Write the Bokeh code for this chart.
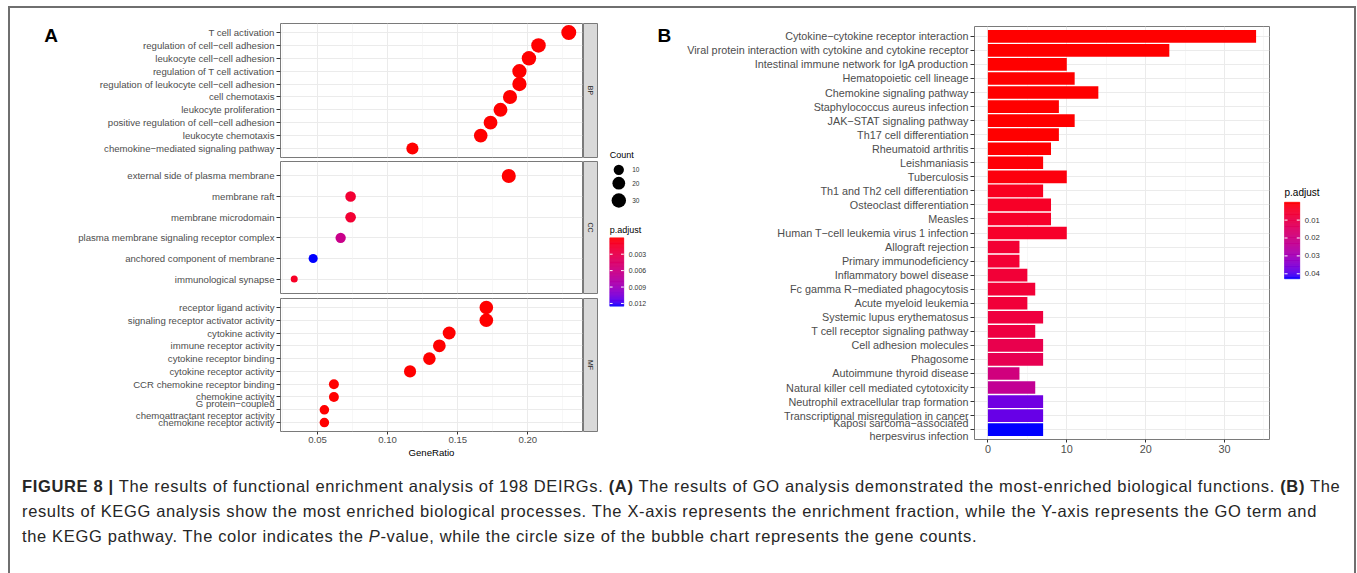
import math
from bokeh.plotting import figure
from bokeh.models import (ColumnDataSource, FactorRange, Range1d, LinearColorMapper,
                          FixedTicker, PrintfTickFormatter, Grid, Div)
from bokeh.layouts import row, column
from bokeh.core.properties import value
from bokeh.embed import file_html
from bokeh.resources import INLINE

FONT = "Liberation Sans"

# ---------------- data: panel A (GO dot plot) ----------------
bp_terms = ["T cell activation", "regulation of cell\u2212cell adhesion", "leukocyte cell\u2212cell adhesion",
            "regulation of T cell activation", "regulation of leukocyte cell\u2212cell adhesion", "cell chemotaxis",
            "leukocyte proliferation", "positive regulation of cell\u2212cell adhesion", "leukocyte chemotaxis",
            "chemokine\u2212mediated signaling pathway"]
bp_ratio = [0.2292, 0.2076, 0.2008, 0.1940, 0.1940, 0.1873, 0.1805, 0.1734, 0.1664, 0.1177]
bp_count = [34, 31, 30, 29, 29, 28, 27, 26, 25, 17]
bp_padj = [1.2e-13, 2.5e-12, 6.0e-12, 1.1e-11, 1.1e-11, 3.0e-12, 4.1e-10, 2.2e-10, 1.5e-12, 4.0e-11]

cc_terms = ["external side of plasma membrane", "membrane raft", "membrane microdomain",
            "plasma membrane signaling receptor complex", "anchored component of membrane", "immunological synapse"]
cc_ratio = [0.1864, 0.0736, 0.0736, 0.0665, 0.0469, 0.0334]
cc_count = [28, 11, 11, 10, 7, 5]
cc_padj = [1.5e-9, 0.0017, 0.0017, 0.0063, 0.0125, 0.0011]

mf_terms = ["receptor ligand activity", "signaling receptor activator activity", "cytokine activity",
            "immune receptor activity", "cytokine receptor binding", "cytokine receptor activity",
            "CCR chemokine receptor binding", "chemokine activity",
            "G protein\u2212coupled\nchemoattractant receptor activity", "chemokine receptor activity"]
mf_ratio = [0.1704, 0.1704, 0.1439, 0.1369, 0.1298, 0.1160, 0.0617, 0.0617, 0.0549, 0.0549]
mf_count = [25, 25, 21, 20, 19, 17, 9, 9, 8, 8]
mf_padj = [2.0e-12, 2.0e-12, 5.0e-10, 1.0e-9, 3.0e-9, 8.0e-9, 4.0e-8, 4.0e-8, 6.0e-8, 6.0e-8]

size_legend_counts = [10, 20, 30]
padj_ticks_A = [0.003, 0.006, 0.009, 0.012]
ratio_ticks = [0.05, 0.10, 0.15, 0.20]
ratio_minor = [0.025, 0.075, 0.125, 0.175, 0.225]

# ---------------- data: panel B (KEGG bar plot) ----------------
kegg_terms = ["Cytokine\u2212cytokine receptor interaction",
              "Viral protein interaction with cytokine and cytokine receptor",
              "Intestinal immune network for IgA production", "Hematopoietic cell lineage",
              "Chemokine signaling pathway", "Staphylococcus aureus infection", "JAK\u2212STAT signaling pathway",
              "Th17 cell differentiation", "Rheumatoid arthritis", "Leishmaniasis", "Tuberculosis",
              "Th1 and Th2 cell differentiation", "Osteoclast differentiation", "Measles",
              "Human T\u2212cell leukemia virus 1 infection", "Allograft rejection", "Primary immunodeficiency",
              "Inflammatory bowel disease", "Fc gamma R\u2212mediated phagocytosis", "Acute myeloid leukemia",
              "Systemic lupus erythematosus", "T cell receptor signaling pathway", "Cell adhesion molecules",
              "Phagosome", "Autoimmune thyroid disease", "Natural killer cell mediated cytotoxicity",
              "Neutrophil extracellular trap formation", "Transcriptional misregulation in cancer",
              "Kaposi sarcoma\u2212associated\nherpesvirus infection"]
kegg_count = [34, 23, 10, 11, 14, 9, 11, 9, 8, 7, 10, 7, 8, 8, 10, 4, 4, 5, 6, 5, 7, 6, 7, 7, 4, 6, 7, 7, 7]
kegg_padj = [1e-19, 1e-14, 2e-6, 2e-6, 5e-6, 5e-5, 8e-5, 1e-4, 3e-4, 6e-4, 9e-4, 0.0030, 0.0039, 0.0043,
             0.0043, 0.0060, 0.0060, 0.0064, 0.0064, 0.0068, 0.0077, 0.0081, 0.0103, 0.0111, 0.0193,
             0.0235, 0.0377, 0.0385, 0.0428]
count_ticks = [0, 10, 20, 30]
count_minor = [5, 15, 25, 35]
padj_ticks_B = [0.01, 0.02, 0.03, 0.04]


# ---------------- Lab gradient red (low) -> blue (high), as ggplot ----------------
XN, YN, ZN = 0.95047, 1.0, 1.08883


def _lin(c):
    c = c / 255.0
    return c / 12.92 if c <= 0.04045 else ((c + 0.055) / 1.055) ** 2.4


def _gam(c):
    c = max(0.0, min(1.0, c))
    v = 12.92 * c if c <= 0.0031308 else 1.055 * c ** (1 / 2.4) - 0.055
    return int(round(max(0.0, min(1.0, v)) * 255))


def rgb_to_lab(r, g, b):
    R, G, B = _lin(r), _lin(g), _lin(b)
    X = 0.4124564 * R + 0.3575761 * G + 0.1804375 * B
    Y = 0.2126729 * R + 0.7151522 * G + 0.0721750 * B
    Z = 0.0193339 * R + 0.1191920 * G + 0.9503041 * B

    def f(t):
        return t ** (1 / 3) if t > 216 / 24389 else (24389 / 27 * t + 16) / 116
    fx, fy, fz = f(X / XN), f(Y / YN), f(Z / ZN)
    return 116 * fy - 16, 500 * (fx - fy), 200 * (fy - fz)


def lab_to_hex(L, a, b):
    fy = (L + 16) / 116
    fx = fy + a / 500
    fz = fy - b / 200

    def finv(t):
        return t ** 3 if t ** 3 > 216 / 24389 else (116 * t - 16) / (24389 / 27)
    X, Y, Z = XN * finv(fx), YN * finv(fy), ZN * finv(fz)
    R = 3.2404542 * X - 1.5371385 * Y - 0.4985314 * Z
    G = -0.9692660 * X + 1.8760108 * Y + 0.0415560 * Z
    B = 0.0556434 * X - 0.2040259 * Y + 1.0572252 * Z
    return "#%02x%02x%02x" % (_gam(R), _gam(G), _gam(B))


LAB_BLUE = rgb_to_lab(0, 0, 255)
LAB_RED = rgb_to_lab(255, 0, 0)
# palette index 0 = blue (largest p), last = red (smallest p); mapped on -p
PAL = [lab_to_hex(*[bl + (i / 255) * (rd - bl) for bl, rd in zip(LAB_BLUE, LAB_RED)]) for i in range(256)]

# ---------------- scales ----------------
all_counts = bp_count + cc_count + mf_count
CMIN, CMAX = min(all_counts), max(all_counts)


def dot_size(c):
    return 7 + 8 * math.sqrt(max(0.0, (c - CMIN) / (CMAX - CMIN)))


all_ratio = bp_ratio + cc_ratio + mf_ratio
lo, hi = min(all_ratio), max(all_ratio)
pad = 0.05 * (hi - lo)
XR_A = Range1d(lo - pad, hi + pad)

padj_A = bp_padj + cc_padj + mf_padj
PMIN_A, PMAX_A = min(padj_A), max(padj_A)
PMIN_B, PMAX_B = min(kegg_padj), max(kegg_padj)
mapperA = LinearColorMapper(palette=PAL, low=-PMAX_A, high=-PMIN_A)
mapperB = LinearColorMapper(palette=PAL, low=-PMAX_B, high=-PMIN_B)

TXT = "#4D4D4D"
BORDER = "#7A7A7A"
GRID = "#EBEBEB"


def style_y(ax, size):
    ax.axis_line_color = None
    ax.major_tick_line_color = "#333333"
    ax.major_tick_out = 4
    ax.major_tick_in = 0
    ax.minor_tick_line_color = None
    ax.major_label_text_font = FONT
    ax.major_label_text_font_size = size
    ax.major_label_text_color = TXT
    ax.major_label_text_line_height = 1.05
    ax.major_label_standoff = 2


def style_x(ax, size):
    ax.axis_line_color = None
    ax.major_tick_line_color = "#333333"
    ax.major_tick_out = 3
    ax.major_tick_in = 0
    ax.minor_tick_line_color = None
    ax.major_label_text_font = FONT
    ax.major_label_text_font_size = size
    ax.major_label_text_color = TXT
    ax.major_label_standoff = 1


def blank(width, height, xr, yr):
    f = figure(width=width, height=height, x_range=xr, y_range=yr, output_backend="svg",
               toolbar_location=None, x_axis_location=None, y_axis_location=None, min_border=0,
               outline_line_color=None)
    for g in f.select(type=Grid):
        g.visible = False
    return f


def facet(terms, ratio, count, padj, width, left, height, top, bottom, show_x):
    yr = FactorRange(factors=terms[::-1], range_padding=0.2, range_padding_units="absolute")
    p = figure(width=width, height=height, x_range=XR_A, y_range=yr, output_backend="svg",
               toolbar_location=None, min_border_left=left, min_border_right=1, min_border_top=top,
               min_border_bottom=bottom, x_axis_location="below" if show_x else None,
               outline_line_color=BORDER)
    src = ColumnDataSource(dict(term=terms, ratio=ratio, size=[dot_size(c) for c in count],
                                negp=[-v for v in padj]))
    p.scatter(x="ratio", y="term", size="size", source=src,
              fill_color={"field": "negp", "transform": mapperA}, line_color=None)
    tk = FixedTicker(ticks=ratio_ticks, minor_ticks=ratio_minor)
    if show_x:
        p.xaxis.ticker = tk
        p.xaxis.formatter = PrintfTickFormatter(format="%.2f")
        style_x(p.xaxis[0], "9.6px")
        p.xaxis.axis_label = "GeneRatio"
        p.xaxis.axis_label_text_font = FONT
        p.xaxis.axis_label_text_font_size = "9.6px"
        p.xaxis.axis_label_text_font_style = "normal"
        p.xaxis.axis_label_text_color = "#000000"
        p.xaxis.axis_label_standoff = 1
        g = p.xgrid[0]
    else:
        for gg in p.select(type=Grid):
            if gg.dimension == 0:
                gg.visible = False
        g = Grid(dimension=0, ticker=tk)
        p.add_layout(g)
    g.grid_line_color = GRID
    g.grid_line_width = 1
    g.minor_grid_line_color = "#F2F2F2"
    g.minor_grid_line_width = 0.6
    p.ygrid.grid_line_color = GRID
    style_y(p.yaxis[0], "9.6px")
    return p


def strip(label, height, top, bottom):
    s = figure(width=16, height=height, x_range=Range1d(0, 1), y_range=Range1d(0, 1), output_backend="svg",
               toolbar_location=None, x_axis_location=None, y_axis_location=None, min_border_left=0,
               min_border_right=2, min_border_top=top, min_border_bottom=bottom,
               background_fill_color="#D9D9D9", outline_line_color=BORDER)
    for g in s.select(type=Grid):
        g.visible = False
    s.text(x=[0.5], y=[0.5], text=[label], angle=-math.pi / 2, text_align="center", text_baseline="middle",
           text_font=value(FONT), text_font_size="7px", text_color="#1A1A1A")
    return s


def colorbar(fig, mapper, pmin, pmax, ticks, fmt, x0, x1, y0, y1, fsize):
    n = 90
    vals = [pmin + (pmax - pmin) * (k + 0.5) / n for k in range(n)]
    src = ColumnDataSource(dict(left=[x0] * n, right=[x1] * n,
                                top=[y0 + (y1 - y0) * k / n for k in range(n)],
                                bottom=[y0 + (y1 - y0) * (k + 1) / n for k in range(n)],
                                negp=[-v for v in vals]))
    cmap = {"field": "negp", "transform": mapper}
    fig.quad(left="left", right="right", top="top", bottom="bottom", source=src,
             fill_color=cmap, line_color=cmap, line_width=0.5)
    ty = [y0 + (t - pmin) / (pmax - pmin) * (y1 - y0) for t in ticks]
    w = (x1 - x0) / 5
    fig.segment(x0=[x0] * len(ty), x1=[x0 + w] * len(ty), y0=ty, y1=ty, line_color="white", line_width=1)
    fig.segment(x0=[x1 - w] * len(ty), x1=[x1] * len(ty), y0=ty, y1=ty, line_color="white", line_width=1)
    fig.text(x=[x1 + 5] * len(ty), y=ty, text=[fmt % t for t in ticks], text_baseline="middle",
             text_font=value(FONT), text_font_size=fsize, text_color="#333333")


# letter A area (frame aligned with BP facet: page y 23..157)
letterA = blank(60, 150, Range1d(10, 70), Range1d(157, 23))
letterA.text(x=[50.5], y=[35], text=["A"], text_align="center", text_baseline="middle", text_font=value(FONT),
             text_font_size="19px", text_font_style="bold", text_color="#000000")

figBP = facet(bp_terms, bp_ratio, bp_count, bp_padj, 513, 210, 150, 15, 1, False)
figCC = facet(cc_terms, cc_ratio, cc_count, cc_padj, 573, 270, 136, 3, 1, False)
figMF = facet(mf_terms, mf_ratio, mf_count, mf_padj, 573, 270, 174, 4, 37, True)

colA = column(row(letterA, figBP, strip("BP", 150, 15, 1)),
              row(figCC, strip("CC", 136, 3, 1)),
              row(figMF, strip("MF", 174, 4, 37)))

# legend area for panel A (frame aligned with panel B frame: page y 26..439)
legA = blank(73, 460, Range1d(599, 672), Range1d(439, 26))
legA.text(x=[609.3], y=[154], text=["Count"], text_baseline="middle", text_font=value(FONT),
          text_font_size="9px", text_color="#000000")
legA.scatter(x=[618.3] * 3, y=[169.3, 182.7, 200], size=[dot_size(c) for c in size_legend_counts],
             fill_color="#000000", line_color=None)
legA.text(x=[631.7] * 3, y=[169.3, 182.7, 200], text=[str(c) for c in size_legend_counts],
          text_baseline="middle", text_font=value(FONT), text_font_size="6.5px", text_color="#333333")
legA.text(x=[609.3], y=[229.3], text=["p.adjust"], text_baseline="middle", text_font=value(FONT),
          text_font_size="9px", text_color="#000000")
legA.text(x=[663.8], y=[34.7], text=["B"], text_align="center", text_baseline="middle", text_font=value(FONT),
          text_font_size="19px", text_font_style="bold", text_color="#000000")
colorbar(legA, mapperA, PMIN_A, PMAX_A, padj_ticks_A, "%.3f", 609.3, 623.3, 237.3, 305.7, "6.9px")

# panel B
figB = figure(width=598, height=460, x_range=Range1d(-0.05 * max(kegg_count), 1.05 * max(kegg_count)),
              y_range=FactorRange(factors=kegg_terms[::-1], range_padding=0.2, range_padding_units="absolute"),
              output_backend="svg", toolbar_location=None, min_border_left=302, min_border_right=1,
              min_border_top=18, min_border_bottom=29, outline_line_color=BORDER)
srcB = ColumnDataSource(dict(term=kegg_terms, count=kegg_count, negp=[-v for v in kegg_padj]))
figB.hbar(y="term", left=0, right="count", height=0.9, source=srcB,
          fill_color={"field": "negp", "transform": mapperB}, line_color=None)
figB.xaxis.ticker = FixedTicker(ticks=count_ticks, minor_ticks=count_minor)
style_x(figB.xaxis[0], "10.8px")
style_y(figB.yaxis[0], "10.8px")
figB.xgrid.grid_line_color = GRID
figB.xgrid.minor_grid_line_color = "#F2F2F2"
figB.xgrid.minor_grid_line_width = 0.6
figB.ygrid.grid_line_color = GRID

legB = blank(84, 460, Range1d(1270, 1354), Range1d(439, 26))
legB.text(x=[1284], y=[192.3], text=["p.adjust"], text_baseline="middle", text_font=value(FONT),
          text_font_size="10px", text_color="#000000")
colorbar(legB, mapperB, PMIN_B, PMAX_B, padj_ticks_B, "%.2f", 1284, 1299.3, 201.7, 278.3, "7.7px")

top_row = row(colA, legA, figB, legB)

caption_html = (
    '<div style="font-family:\'Liberation Sans\',Arial,sans-serif;font-size:16.5px;letter-spacing:0.65px;'
    'line-height:25px;color:#262626;padding:6px 0 0 12px;white-space:nowrap;">'
    '<b>FIGURE 8 |</b> The results of functional enrichment analysis of 198 DEIRGs. <b>(A)</b> The results of GO '
    'analysis demonstrated the most-enriched biological functions. <b>(B)</b> The<br>'
    'results of KEGG analysis show the most enriched biological processes. The X-axis represents the enrichment '
    'fraction, while the Y-axis represents the GO term and<br>'
    'the KEGG pathway. The color indicates the <i>P</i>-value, while the circle size of the bubble chart '
    'represents the gene counts.</div>'
)
caption = Div(text=caption_html, width=1344, height=105, margin=0)

root = column(top_row, caption, margin=(6, 0, 0, 8),
              styles={"border-top": "2px solid #6F6F6F", "border-left": "2px solid #6F6F6F",
                      "border-right": "2px solid #6F6F6F"})

open("out.html", "w").write(file_html(root, INLINE))
